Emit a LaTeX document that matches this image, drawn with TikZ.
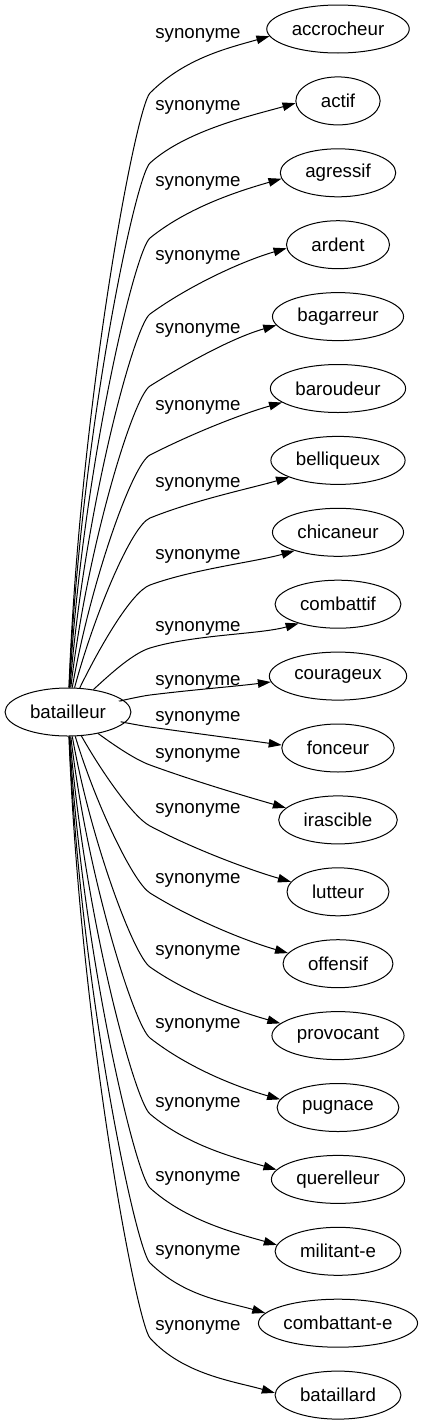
\documentclass[tikz,border=0pt]{standalone}
\usepackage{fontspec}
\setmainfont{Liberation Sans}
\usetikzlibrary{arrows.meta,calc,shapes.geometric}
\newcommand{\lbl}{\fontsize{18.7}{22}\selectfont}
\tikzset{
  word/.style={draw,ellipse,line width=1pt,inner xsep=0pt,inner ysep=2pt,minimum height=48pt},
  syn/.style={inner sep=0pt},
  link/.style={->,line width=1pt},
}

\begin{document}
\begin{tikzpicture}[>={Triangle[length=13pt,width=8.5pt]},x=1pt,y=1pt,every node/.style={font=\lbl}]
  \lbl
  \useasboundingbox (0,0) rectangle (426,-1427);
  \node[word,minimum width={width("batailleur")+50}] (bat) at (68,-712) {batailleur};
  % one ellipse, one label and one bent edge per synonym
  \foreach \w/\txt/\ly/\drop/\lift/\turn [count=\i from 0] in {
    accrocheur/accrocheur/35/58/7/45,
    actif/actif/107/56/4/42,
    agressif/agressif/183/55/7/39,
    ardent/ardent/257/57/5/36,
    bagarreur/bagarreur/330/56/9/32,
    baroudeur/baroudeur/407/48/13/27,
    belliqueux/belliqueux/484/34/16/22,
    chicaneur/chicaneur/556/29/18/20,
    combattif/combattif/628/20/19/17,
    courageux/courageux/682/13/6/7,
    fonceur/fonceur/718/9/3/8,
    irascible/irascible/755/10/12/20,
    lutteur/lutteur/810/16/11/28,
    offensif/offensif/880/13/11/32,
    provocant/provocant/952/15/11/35,
    pugnace/pugnace/1025/13/8/38,
    querelleur/querelleur/1104/10/9/40,
    militante/militant-e/1178/10/6/42,
    combattante/combattant-e/1252/11/8/44,
    bataillard/bataillard/1327/11/2/48}{
    \pgfmathsetmacro\ty{29+71.9*\i}
    \pgfmathsetmacro\sg{\i<10 ? -1 : 1}
    \pgfmathsetmacro\by{\ly+\drop}
    \pgfmathsetmacro\rise{abs(\by-712)}
    \pgfmathsetmacro\ax{80+30*(max(0,1-\rise/620))^2}
    \pgfmathsetmacro\ay{712+\sg*0.5*\rise}
    \pgfmathsetmacro\bk{min(20,0.25*\rise+6)}
    \pgfmathsetmacro\bx{150-\bk*cos(\turn)}
    \pgfmathsetmacro\bby{\by-\sg*\bk*sin(\turn)}
    \pgfmathsetmacro\ey{\ty-\sg*\lift}
    \pgfmathsetmacro\chord{veclen(130,\ey-\by)}
    \pgfmathsetmacro\cx{150+0.35*\chord*cos(\turn)}
    \pgfmathsetmacro\cy{\by+\sg*0.35*\chord*sin(\turn)}
    \pgfmathsetmacro\ph{min(\turn,16)}
    \pgfmathsetmacro\rx{0.3*\chord*cos(\ph)}
    \pgfmathsetmacro\ry{0.3*\chord*sin(\ph)}
    \pgfmathsetmacro\al{atan2(\lift,62*sqrt(1-(\lift/24)^2))}
    \pgfmathsetmacro\an{180-\sg*\al}
    \node[word,minimum width={width("\txt")+50}] (\w) at (338,-\ty) {\txt};
    \node[syn] (lab\i) at (198,-\ly) {synonyme};
    \coordinate (k\i) at (150,-\by);
    \draw[link] (bat) .. controls (\ax,-\ay) and (\bx,-\bby) .. (k\i)
      .. controls (\cx,-\cy) and ($(\w.\an)+(-\rx,\sg*\ry)$) .. (\w.\an);
  }
\end{tikzpicture}
\end{document}
